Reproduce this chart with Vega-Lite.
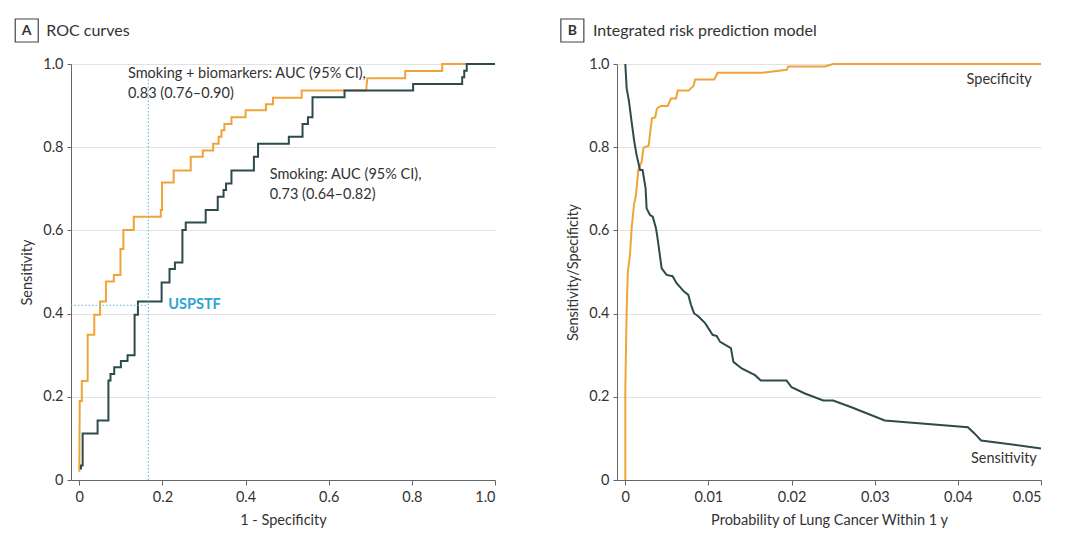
{
  "$schema": "https://vega.github.io/schema/vega-lite/v6.json",
  "background": "white",
  "padding": {"left": 12, "top": 16, "right": 5, "bottom": 5},
  "config": {
    "view": {"stroke": null},
    "font": "Lato",
    "axis": {
      "labelFont": "Lato", "titleFont": "Lato", "labelFontSize": 14.5, "titleFontSize": 14.5,
      "titleFontWeight": "normal", "labelColor": "#333", "titleColor": "#333",
      "domainColor": "#666", "tickColor": "#666", "gridColor": "#e2e2e2", "gridWidth": 1.2
    },
    "text": {"font": "Lato", "fontSize": 14.5, "color": "#333"}
  },
  "datasets": {
    "roc": [
      {"model": "Smoking + biomarkers", "order": 1, "fpr": 0, "tpr": 0.02},
      {"model": "Smoking + biomarkers", "order": 2, "fpr": 0.001, "tpr": 0.19},
      {"model": "Smoking + biomarkers", "order": 3, "fpr": 0.006, "tpr": 0.19},
      {"model": "Smoking + biomarkers", "order": 4, "fpr": 0.006, "tpr": 0.238},
      {"model": "Smoking + biomarkers", "order": 5, "fpr": 0.02, "tpr": 0.238},
      {"model": "Smoking + biomarkers", "order": 6, "fpr": 0.02, "tpr": 0.349},
      {"model": "Smoking + biomarkers", "order": 7, "fpr": 0.036, "tpr": 0.349},
      {"model": "Smoking + biomarkers", "order": 8, "fpr": 0.036, "tpr": 0.397},
      {"model": "Smoking + biomarkers", "order": 9, "fpr": 0.05, "tpr": 0.397},
      {"model": "Smoking + biomarkers", "order": 10, "fpr": 0.05, "tpr": 0.429},
      {"model": "Smoking + biomarkers", "order": 11, "fpr": 0.064, "tpr": 0.429},
      {"model": "Smoking + biomarkers", "order": 12, "fpr": 0.064, "tpr": 0.477},
      {"model": "Smoking + biomarkers", "order": 13, "fpr": 0.083, "tpr": 0.477},
      {"model": "Smoking + biomarkers", "order": 14, "fpr": 0.083, "tpr": 0.493},
      {"model": "Smoking + biomarkers", "order": 15, "fpr": 0.099, "tpr": 0.493},
      {"model": "Smoking + biomarkers", "order": 16, "fpr": 0.099, "tpr": 0.555},
      {"model": "Smoking + biomarkers", "order": 17, "fpr": 0.106, "tpr": 0.555},
      {"model": "Smoking + biomarkers", "order": 18, "fpr": 0.106, "tpr": 0.601},
      {"model": "Smoking + biomarkers", "order": 19, "fpr": 0.131, "tpr": 0.601},
      {"model": "Smoking + biomarkers", "order": 20, "fpr": 0.131, "tpr": 0.633},
      {"model": "Smoking + biomarkers", "order": 21, "fpr": 0.196, "tpr": 0.633},
      {"model": "Smoking + biomarkers", "order": 22, "fpr": 0.196, "tpr": 0.649},
      {"model": "Smoking + biomarkers", "order": 23, "fpr": 0.199, "tpr": 0.649},
      {"model": "Smoking + biomarkers", "order": 24, "fpr": 0.199, "tpr": 0.715},
      {"model": "Smoking + biomarkers", "order": 25, "fpr": 0.227, "tpr": 0.715},
      {"model": "Smoking + biomarkers", "order": 26, "fpr": 0.227, "tpr": 0.744},
      {"model": "Smoking + biomarkers", "order": 27, "fpr": 0.268, "tpr": 0.744},
      {"model": "Smoking + biomarkers", "order": 28, "fpr": 0.268, "tpr": 0.777},
      {"model": "Smoking + biomarkers", "order": 29, "fpr": 0.297, "tpr": 0.777},
      {"model": "Smoking + biomarkers", "order": 30, "fpr": 0.297, "tpr": 0.792},
      {"model": "Smoking + biomarkers", "order": 31, "fpr": 0.322, "tpr": 0.792},
      {"model": "Smoking + biomarkers", "order": 32, "fpr": 0.322, "tpr": 0.808},
      {"model": "Smoking + biomarkers", "order": 33, "fpr": 0.335, "tpr": 0.808},
      {"model": "Smoking + biomarkers", "order": 34, "fpr": 0.335, "tpr": 0.825},
      {"model": "Smoking + biomarkers", "order": 35, "fpr": 0.342, "tpr": 0.825},
      {"model": "Smoking + biomarkers", "order": 36, "fpr": 0.342, "tpr": 0.841},
      {"model": "Smoking + biomarkers", "order": 37, "fpr": 0.349, "tpr": 0.841},
      {"model": "Smoking + biomarkers", "order": 38, "fpr": 0.349, "tpr": 0.856},
      {"model": "Smoking + biomarkers", "order": 39, "fpr": 0.366, "tpr": 0.856},
      {"model": "Smoking + biomarkers", "order": 40, "fpr": 0.366, "tpr": 0.872},
      {"model": "Smoking + biomarkers", "order": 41, "fpr": 0.4, "tpr": 0.872},
      {"model": "Smoking + biomarkers", "order": 42, "fpr": 0.4, "tpr": 0.889},
      {"model": "Smoking + biomarkers", "order": 43, "fpr": 0.449, "tpr": 0.889},
      {"model": "Smoking + biomarkers", "order": 44, "fpr": 0.449, "tpr": 0.903},
      {"model": "Smoking + biomarkers", "order": 45, "fpr": 0.466, "tpr": 0.903},
      {"model": "Smoking + biomarkers", "order": 46, "fpr": 0.466, "tpr": 0.919},
      {"model": "Smoking + biomarkers", "order": 47, "fpr": 0.535, "tpr": 0.919},
      {"model": "Smoking + biomarkers", "order": 48, "fpr": 0.535, "tpr": 0.936},
      {"model": "Smoking + biomarkers", "order": 49, "fpr": 0.69, "tpr": 0.936},
      {"model": "Smoking + biomarkers", "order": 50, "fpr": 0.693, "tpr": 0.966},
      {"model": "Smoking + biomarkers", "order": 51, "fpr": 0.784, "tpr": 0.966},
      {"model": "Smoking + biomarkers", "order": 52, "fpr": 0.784, "tpr": 0.983},
      {"model": "Smoking + biomarkers", "order": 53, "fpr": 0.873, "tpr": 0.983},
      {"model": "Smoking + biomarkers", "order": 54, "fpr": 0.873, "tpr": 1.0},
      {"model": "Smoking + biomarkers", "order": 55, "fpr": 1.0, "tpr": 1.0},
      {"model": "Smoking", "order": 1, "fpr": 0.004, "tpr": 0.025},
      {"model": "Smoking", "order": 2, "fpr": 0.004, "tpr": 0.035},
      {"model": "Smoking", "order": 3, "fpr": 0.008, "tpr": 0.035},
      {"model": "Smoking", "order": 4, "fpr": 0.008, "tpr": 0.112},
      {"model": "Smoking", "order": 5, "fpr": 0.044, "tpr": 0.112},
      {"model": "Smoking", "order": 6, "fpr": 0.044, "tpr": 0.143},
      {"model": "Smoking", "order": 7, "fpr": 0.07, "tpr": 0.143},
      {"model": "Smoking", "order": 8, "fpr": 0.07, "tpr": 0.239},
      {"model": "Smoking", "order": 9, "fpr": 0.075, "tpr": 0.239},
      {"model": "Smoking", "order": 10, "fpr": 0.075, "tpr": 0.255},
      {"model": "Smoking", "order": 11, "fpr": 0.084, "tpr": 0.255},
      {"model": "Smoking", "order": 12, "fpr": 0.084, "tpr": 0.271},
      {"model": "Smoking", "order": 13, "fpr": 0.1, "tpr": 0.271},
      {"model": "Smoking", "order": 14, "fpr": 0.1, "tpr": 0.286},
      {"model": "Smoking", "order": 15, "fpr": 0.116, "tpr": 0.286},
      {"model": "Smoking", "order": 16, "fpr": 0.116, "tpr": 0.3},
      {"model": "Smoking", "order": 17, "fpr": 0.133, "tpr": 0.3},
      {"model": "Smoking", "order": 18, "fpr": 0.133, "tpr": 0.397},
      {"model": "Smoking", "order": 19, "fpr": 0.141, "tpr": 0.397},
      {"model": "Smoking", "order": 20, "fpr": 0.141, "tpr": 0.429},
      {"model": "Smoking", "order": 21, "fpr": 0.198, "tpr": 0.429},
      {"model": "Smoking", "order": 22, "fpr": 0.198, "tpr": 0.475},
      {"model": "Smoking", "order": 23, "fpr": 0.217, "tpr": 0.475},
      {"model": "Smoking", "order": 24, "fpr": 0.217, "tpr": 0.507},
      {"model": "Smoking", "order": 25, "fpr": 0.23, "tpr": 0.507},
      {"model": "Smoking", "order": 26, "fpr": 0.23, "tpr": 0.523},
      {"model": "Smoking", "order": 27, "fpr": 0.248, "tpr": 0.523},
      {"model": "Smoking", "order": 28, "fpr": 0.248, "tpr": 0.601},
      {"model": "Smoking", "order": 29, "fpr": 0.256, "tpr": 0.601},
      {"model": "Smoking", "order": 30, "fpr": 0.256, "tpr": 0.619},
      {"model": "Smoking", "order": 31, "fpr": 0.304, "tpr": 0.619},
      {"model": "Smoking", "order": 32, "fpr": 0.304, "tpr": 0.649},
      {"model": "Smoking", "order": 33, "fpr": 0.333, "tpr": 0.649},
      {"model": "Smoking", "order": 34, "fpr": 0.333, "tpr": 0.681},
      {"model": "Smoking", "order": 35, "fpr": 0.347, "tpr": 0.681},
      {"model": "Smoking", "order": 36, "fpr": 0.347, "tpr": 0.697},
      {"model": "Smoking", "order": 37, "fpr": 0.353, "tpr": 0.697},
      {"model": "Smoking", "order": 38, "fpr": 0.353, "tpr": 0.713},
      {"model": "Smoking", "order": 39, "fpr": 0.366, "tpr": 0.713},
      {"model": "Smoking", "order": 40, "fpr": 0.366, "tpr": 0.744},
      {"model": "Smoking", "order": 41, "fpr": 0.42, "tpr": 0.744},
      {"model": "Smoking", "order": 42, "fpr": 0.42, "tpr": 0.777},
      {"model": "Smoking", "order": 43, "fpr": 0.43, "tpr": 0.777},
      {"model": "Smoking", "order": 44, "fpr": 0.43, "tpr": 0.808},
      {"model": "Smoking", "order": 45, "fpr": 0.504, "tpr": 0.808},
      {"model": "Smoking", "order": 46, "fpr": 0.504, "tpr": 0.825},
      {"model": "Smoking", "order": 47, "fpr": 0.537, "tpr": 0.825},
      {"model": "Smoking", "order": 48, "fpr": 0.537, "tpr": 0.856},
      {"model": "Smoking", "order": 49, "fpr": 0.55, "tpr": 0.856},
      {"model": "Smoking", "order": 50, "fpr": 0.55, "tpr": 0.872},
      {"model": "Smoking", "order": 51, "fpr": 0.561, "tpr": 0.872},
      {"model": "Smoking", "order": 52, "fpr": 0.561, "tpr": 0.92},
      {"model": "Smoking", "order": 53, "fpr": 0.638, "tpr": 0.92},
      {"model": "Smoking", "order": 54, "fpr": 0.638, "tpr": 0.936},
      {"model": "Smoking", "order": 55, "fpr": 0.803, "tpr": 0.936},
      {"model": "Smoking", "order": 56, "fpr": 0.803, "tpr": 0.952},
      {"model": "Smoking", "order": 57, "fpr": 0.921, "tpr": 0.952},
      {"model": "Smoking", "order": 58, "fpr": 0.921, "tpr": 0.968},
      {"model": "Smoking", "order": 59, "fpr": 0.926, "tpr": 0.968},
      {"model": "Smoking", "order": 60, "fpr": 0.926, "tpr": 0.984},
      {"model": "Smoking", "order": 61, "fpr": 0.932, "tpr": 0.984},
      {"model": "Smoking", "order": 62, "fpr": 0.932, "tpr": 1.0},
      {"model": "Smoking", "order": 63, "fpr": 1.0, "tpr": 1.0}
    ],
    "risk": [
      {"measure": "Specificity", "prob": 0, "value": 0},
      {"measure": "Specificity", "prob": 0, "value": 0.22},
      {"measure": "Specificity", "prob": 0.00016, "value": 0.405},
      {"measure": "Specificity", "prob": 0.0003, "value": 0.5},
      {"measure": "Specificity", "prob": 0.00056, "value": 0.541},
      {"measure": "Specificity", "prob": 0.00076, "value": 0.605},
      {"measure": "Specificity", "prob": 0.00104, "value": 0.661},
      {"measure": "Specificity", "prob": 0.00128, "value": 0.685},
      {"measure": "Specificity", "prob": 0.00156, "value": 0.745},
      {"measure": "Specificity", "prob": 0.00196, "value": 0.765},
      {"measure": "Specificity", "prob": 0.0022, "value": 0.799},
      {"measure": "Specificity", "prob": 0.0028, "value": 0.803},
      {"measure": "Specificity", "prob": 0.0032, "value": 0.869},
      {"measure": "Specificity", "prob": 0.0036, "value": 0.872},
      {"measure": "Specificity", "prob": 0.0038, "value": 0.893},
      {"measure": "Specificity", "prob": 0.00426, "value": 0.899},
      {"measure": "Specificity", "prob": 0.0051, "value": 0.899},
      {"measure": "Specificity", "prob": 0.0055, "value": 0.917},
      {"measure": "Specificity", "prob": 0.0061, "value": 0.917},
      {"measure": "Specificity", "prob": 0.0063, "value": 0.936},
      {"measure": "Specificity", "prob": 0.0076, "value": 0.936},
      {"measure": "Specificity", "prob": 0.0082, "value": 0.947},
      {"measure": "Specificity", "prob": 0.0084, "value": 0.963},
      {"measure": "Specificity", "prob": 0.0107, "value": 0.963},
      {"measure": "Specificity", "prob": 0.0111, "value": 0.979},
      {"measure": "Specificity", "prob": 0.0165, "value": 0.979},
      {"measure": "Specificity", "prob": 0.0194, "value": 0.986},
      {"measure": "Specificity", "prob": 0.0196, "value": 0.994},
      {"measure": "Specificity", "prob": 0.024, "value": 0.994},
      {"measure": "Specificity", "prob": 0.025, "value": 1.0},
      {"measure": "Specificity", "prob": 0.05, "value": 1.0},
      {"measure": "Sensitivity", "prob": 0, "value": 1.0},
      {"measure": "Sensitivity", "prob": 0.00016, "value": 0.942},
      {"measure": "Sensitivity", "prob": 0.00044, "value": 0.91},
      {"measure": "Sensitivity", "prob": 0.00076, "value": 0.861},
      {"measure": "Sensitivity", "prob": 0.00108, "value": 0.813},
      {"measure": "Sensitivity", "prob": 0.00136, "value": 0.781},
      {"measure": "Sensitivity", "prob": 0.00177, "value": 0.745},
      {"measure": "Sensitivity", "prob": 0.00208, "value": 0.745},
      {"measure": "Sensitivity", "prob": 0.00244, "value": 0.701},
      {"measure": "Sensitivity", "prob": 0.00256, "value": 0.653},
      {"measure": "Sensitivity", "prob": 0.00297, "value": 0.637},
      {"measure": "Sensitivity", "prob": 0.0033, "value": 0.633},
      {"measure": "Sensitivity", "prob": 0.00369, "value": 0.605},
      {"measure": "Sensitivity", "prob": 0.00388, "value": 0.581},
      {"measure": "Sensitivity", "prob": 0.00437, "value": 0.509},
      {"measure": "Sensitivity", "prob": 0.00497, "value": 0.493},
      {"measure": "Sensitivity", "prob": 0.00569, "value": 0.49},
      {"measure": "Sensitivity", "prob": 0.00617, "value": 0.473},
      {"measure": "Sensitivity", "prob": 0.00706, "value": 0.453},
      {"measure": "Sensitivity", "prob": 0.00758, "value": 0.445},
      {"measure": "Sensitivity", "prob": 0.0079, "value": 0.421},
      {"measure": "Sensitivity", "prob": 0.00826, "value": 0.401},
      {"measure": "Sensitivity", "prob": 0.0088, "value": 0.393},
      {"measure": "Sensitivity", "prob": 0.0096, "value": 0.377},
      {"measure": "Sensitivity", "prob": 0.0105, "value": 0.349},
      {"measure": "Sensitivity", "prob": 0.011, "value": 0.346},
      {"measure": "Sensitivity", "prob": 0.0114, "value": 0.332},
      {"measure": "Sensitivity", "prob": 0.0127, "value": 0.317},
      {"measure": "Sensitivity", "prob": 0.013, "value": 0.284},
      {"measure": "Sensitivity", "prob": 0.014, "value": 0.268},
      {"measure": "Sensitivity", "prob": 0.0156, "value": 0.252},
      {"measure": "Sensitivity", "prob": 0.0163, "value": 0.239},
      {"measure": "Sensitivity", "prob": 0.0194, "value": 0.239},
      {"measure": "Sensitivity", "prob": 0.02, "value": 0.223},
      {"measure": "Sensitivity", "prob": 0.0216, "value": 0.208},
      {"measure": "Sensitivity", "prob": 0.0238, "value": 0.191},
      {"measure": "Sensitivity", "prob": 0.025, "value": 0.191},
      {"measure": "Sensitivity", "prob": 0.0272, "value": 0.175},
      {"measure": "Sensitivity", "prob": 0.0312, "value": 0.143},
      {"measure": "Sensitivity", "prob": 0.0412, "value": 0.127},
      {"measure": "Sensitivity", "prob": 0.042, "value": 0.112},
      {"measure": "Sensitivity", "prob": 0.0428, "value": 0.095},
      {"measure": "Sensitivity", "prob": 0.05, "value": 0.076}
    ],
    "one": [{}]
  },
  "hconcat": [
    {
      "width": 424,
      "height": 416,
      "layer": [
        {
          "data": {"name": "roc"},
          "mark": {"type": "line", "strokeWidth": 2, "interpolate": "linear"},
          "encoding": {
            "x": {
              "field": "fpr", "type": "quantitative",
              "scale": {"domain": [-0.02, 1], "nice": false, "zero": false},
              "axis": {
                "title": "1 - Specificity", "values": [0, 0.2, 0.4, 0.6, 0.8, 1],
                "labelExpr": "datum.value == 0 ? '0' : format(datum.value, '.1f')",
                "grid": false, "tickSize": 5, "labelPadding": 5, "titlePadding": 10
              }
            },
            "y": {
              "field": "tpr", "type": "quantitative",
              "scale": {"domain": [0, 1], "nice": false},
              "axis": {
                "title": "Sensitivity", "values": [0, 0.2, 0.4, 0.6, 0.8, 1],
                "labelExpr": "datum.value == 0 ? '0' : format(datum.value, '.1f')",
                "grid": true, "tickSize": 4, "labelPadding": 4, "titlePadding": 8
              }
            },
            "order": {"field": "order", "type": "quantitative"},
            "color": {
              "field": "model", "type": "nominal", "legend": null,
              "scale": {"domain": ["Smoking + biomarkers", "Smoking"], "range": ["#EFA43A", "#2D4A4C"]}
            }
          }
        },
        {
          "data": {"name": "one"},
          "mark": {"type": "rule", "strokeDash": [1.5, 2], "color": "#5BB6DC", "strokeWidth": 1},
          "encoding": {"x": {"datum": 0.166}, "y": {"datum": 0}, "y2": {"datum": 0.97}}
        },
        {
          "data": {"name": "one"},
          "mark": {"type": "rule", "strokeDash": [1.5, 2], "color": "#5BB6DC", "strokeWidth": 1},
          "encoding": {"y": {"datum": 0.42}, "x": {"datum": -0.02}, "x2": {"datum": 0.166}}
        },
        {
          "data": {"name": "one"},
          "mark": {"type": "text", "align": "left", "baseline": "middle", "color": "#2FA3D3", "fontWeight": "bold", "fontSize": 14.5},
          "encoding": {"x": {"datum": 0.214}, "y": {"datum": 0.421}, "text": {"value": "USPSTF"}}
        },
        {
          "data": {"name": "one"},
          "mark": {"type": "text", "align": "left", "baseline": "middle", "lineHeight": 20},
          "encoding": {"x": {"datum": 0.117}, "y": {"datum": 0.977}, "text": {"value": ["Smoking + biomarkers: AUC (95% CI),", "0.83 (0.76\u20130.90)"]}}
        },
        {
          "data": {"name": "one"},
          "mark": {"type": "text", "align": "left", "baseline": "middle", "lineHeight": 20},
          "encoding": {"x": {"datum": 0.458}, "y": {"datum": 0.733}, "text": {"value": ["Smoking: AUC (95% CI),", "0.73 (0.64\u20130.82)"]}}
        },
        {
          "data": {"name": "one"},
          "mark": {"type": "point", "shape": "square", "size": 529, "filled": false, "stroke": "#444", "strokeWidth": 1.2, "opacity": 1},
          "encoding": {"x": {"datum": -0.1265}, "y": {"datum": 1.0805}}
        },
        {
          "data": {"name": "one"},
          "mark": {"type": "text", "align": "center", "baseline": "middle", "fontWeight": "bold", "fontSize": 14, "color": "#333"},
          "encoding": {"x": {"datum": -0.1265}, "y": {"datum": 1.0805}, "text": {"value": "A"}}
        },
        {
          "data": {"name": "one"},
          "mark": {"type": "text", "align": "left", "baseline": "middle", "fontSize": 16, "color": "#333"},
          "encoding": {"x": {"datum": -0.0795}, "y": {"datum": 1.0805}, "text": {"value": "ROC curves"}}
        }
      ]
    },
    {
      "width": 424,
      "height": 416,
      "layer": [
        {
          "data": {"name": "risk"},
          "mark": {"type": "line", "strokeWidth": 2, "interpolate": "linear"},
          "encoding": {
            "x": {
              "field": "prob", "type": "quantitative",
              "scale": {"domain": [-0.001, 0.05], "nice": false, "zero": false},
              "axis": {
                "title": "Probability of Lung Cancer Within 1 y", "values": [0, 0.01, 0.02, 0.03, 0.04, 0.05],
                "labelExpr": "datum.value == 0 ? '0' : format(datum.value, '.2f')",
                "grid": false, "tickSize": 5, "labelPadding": 5, "titlePadding": 10
              }
            },
            "y": {
              "field": "value", "type": "quantitative",
              "scale": {"domain": [0, 1], "nice": false},
              "axis": {
                "title": "Sensitivity/Specificity", "values": [0, 0.2, 0.4, 0.6, 0.8, 1],
                "labelExpr": "datum.value == 0 ? '0' : format(datum.value, '.1f')",
                "grid": true, "tickSize": 4, "labelPadding": 4, "titlePadding": 8
              }
            },
            "color": {
              "field": "measure", "type": "nominal", "legend": null,
              "scale": {"domain": ["Specificity", "Sensitivity"], "range": ["#EFA43A", "#2D4A4C"]}
            }
          }
        },
        {
          "data": {"name": "one"},
          "mark": {"type": "text", "align": "right", "baseline": "middle"},
          "encoding": {"x": {"datum": 0.0489}, "y": {"datum": 0.962}, "text": {"value": "Specificity"}}
        },
        {
          "data": {"name": "one"},
          "mark": {"type": "text", "align": "right", "baseline": "middle"},
          "encoding": {"x": {"datum": 0.0495}, "y": {"datum": 0.05}, "text": {"value": "Sensitivity"}}
        },
        {
          "data": {"name": "one"},
          "mark": {"type": "point", "shape": "square", "size": 529, "filled": false, "stroke": "#444", "strokeWidth": 1.2, "opacity": 1},
          "encoding": {"x": {"datum": -0.00637}, "y": {"datum": 1.0805}}
        },
        {
          "data": {"name": "one"},
          "mark": {"type": "text", "align": "center", "baseline": "middle", "fontWeight": "bold", "fontSize": 14, "color": "#333"},
          "encoding": {"x": {"datum": -0.00637}, "y": {"datum": 1.0805}, "text": {"value": "B"}}
        },
        {
          "data": {"name": "one"},
          "mark": {"type": "text", "align": "left", "baseline": "middle", "fontSize": 16, "color": "#333"},
          "encoding": {"x": {"datum": -0.0039}, "y": {"datum": 1.0805}, "text": {"value": "Integrated risk prediction model"}}
        }
      ]
    }
  ],
  "spacing": 122,
  "bounds": "flush"
}
